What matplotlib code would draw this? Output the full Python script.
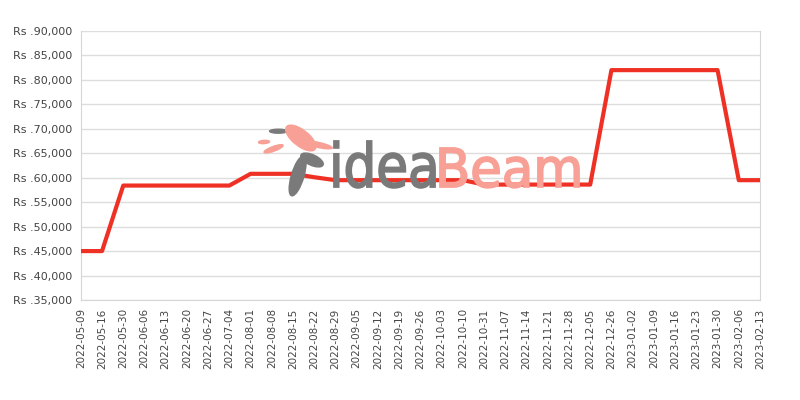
import matplotlib.pyplot as plt
from matplotlib.patches import Ellipse, PathPatch
from matplotlib.textpath import TextPath
from matplotlib.font_manager import FontProperties
from matplotlib.transforms import Affine2D

# weekly price points (category axis, gaps in dates are kept as-is)
dates = ["2022-05-09", "2022-05-16", "2022-05-30", "2022-06-06", "2022-06-13",
         "2022-06-20", "2022-06-27", "2022-07-04", "2022-08-01", "2022-08-08",
         "2022-08-15", "2022-08-22", "2022-08-29", "2022-09-05", "2022-09-12",
         "2022-09-19", "2022-09-26", "2022-10-03", "2022-10-10", "2022-10-31",
         "2022-11-07", "2022-11-14", "2022-11-21", "2022-11-28", "2022-12-05",
         "2022-12-26", "2023-01-02", "2023-01-09", "2023-01-16", "2023-01-23",
         "2023-01-30", "2023-02-06", "2023-02-13"]
prices = [45000, 45000, 58400, 58400, 58400,
          58400, 58400, 58400, 60800, 60800,
          60800, 60100, 59500, 59500, 59500,
          59500, 59500, 59500, 59500, 58600,
          58600, 58600, 58600, 58600, 58600,
          82000, 82000, 82000, 82000, 82000,
          82000, 59500, 59500]
y_ticks = list(range(35000, 90001, 5000))

W, H = 800, 400
fig = plt.figure(figsize=(8, 4), dpi=100)
ax = fig.add_axes([0.101, 0.25, 0.849, 0.6725])

x = list(range(len(dates)))
ax.plot(x, prices, color="#ee3124", linewidth=3.0, zorder=5)

ax.set_xlim(0, len(dates) - 1)
ax.set_ylim(35000, 90000)
ax.set_yticks(y_ticks)
ax.set_yticklabels(["Rs .{:,}".format(v) for v in y_ticks], fontsize=8, color="#444444")
ax.set_xticks(x)
ax.set_xticklabels(dates, rotation=90, fontsize=7.5, color="#444444")
ax.tick_params(length=0, pad=6)
ax.grid(axis="y", color="#dddddd", linewidth=1)
ax.set_axisbelow(True)
for side in ["left", "right", "bottom"]:
    ax.spines[side].set_color("#d6d6d6")
ax.spines["top"].set_visible(False)


# watermark word squeezed into a pixel box (x0, x1, baseline, top)
def logo_word(word, box, color):
    tp = TextPath((0, 0), word, size=1, prop=FontProperties(family="DejaVu Sans"))
    ext = tp.get_extents()
    x0, x1, base, top = box
    sx = (x1 - x0) / W / ext.width
    sy = (base - top) / H / ext.y1
    tr = Affine2D().translate(-ext.x0, 0).scale(sx, sy).translate(x0 / W, 1 - base / H)
    # thin edge in the same colour gives a medium weight
    fig.patches.append(PathPatch(tp, transform=tr + fig.transFigure, facecolor=color,
                                 edgecolor=color, lw=1.3, zorder=1))


logo_word("idea", (334, 435, 187, 141), "#7a7a7a")
logo_word("Beam", (440, 579, 187, 148), "#f8a096")

leaf = [
    ((0.372, 0.56), 0.016, 0.1, -8, "#7a7a7a"),
    ((0.39, 0.6), 0.02, 0.04, 35, "#7a7a7a"),
    ((0.348, 0.672), 0.022, 0.01, 0, "#7a7a7a"),
    ((0.33, 0.645), 0.014, 0.008, 10, "#f8a096"),
    ((0.342, 0.628), 0.01, 0.03, -50, "#f8a096"),
    ((0.376, 0.655), 0.026, 0.07, 25, "#f8a096"),
    ((0.397, 0.638), 0.04, 0.012, -25, "#f8a096"),
]
for (cx, cy), w, h, ang, col in leaf:
    fig.patches.append(Ellipse((cx, cy), w, h, angle=ang, color=col,
                               transform=fig.transFigure, zorder=1))

fig.savefig("out.png", dpi=100)
